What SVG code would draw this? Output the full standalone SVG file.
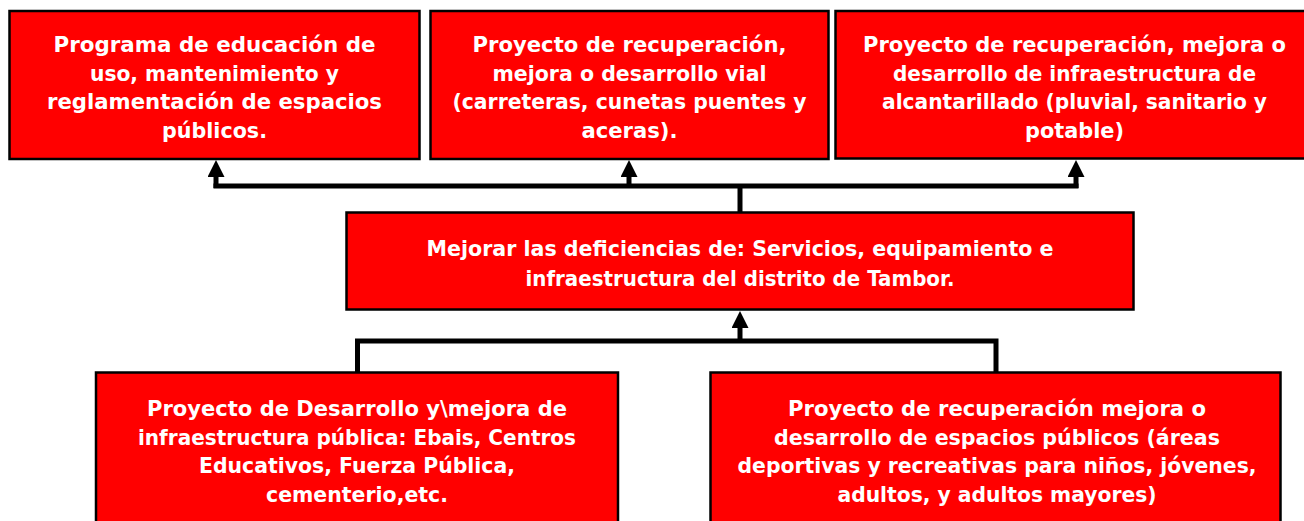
<svg xmlns="http://www.w3.org/2000/svg" width="1304" height="521" viewBox="0 0 1304 521">
<style>
.box{fill:#ff0000;stroke:#000;stroke-width:2.5}
.t{font-family:"DejaVu Sans","Liberation Sans",sans-serif;font-weight:bold;font-size:21px;fill:#fff;text-anchor:middle}
.m{font-size:22px}
.c{fill:none;stroke:#000;stroke-width:5}
</style>
<defs>
<marker id="ah" viewBox="0 0 17 17" refX="7" refY="8.5" markerWidth="17" markerHeight="17" markerUnits="userSpaceOnUse" orient="auto">
<path d="M0,0 L17,8.5 L0,17 z" fill="#000"/>
</marker>
</defs>
<rect width="1304" height="521" fill="#fff"/>
<g id="connectors">
<path class="c" d="M213.5,186 H1078.5"/>
<path class="c" d="M216,188 V170" marker-end="url(#ah)"/>
<path class="c" d="M629,188 V170" marker-end="url(#ah)"/>
<path class="c" d="M1076,188 V170" marker-end="url(#ah)"/>
<path class="c" d="M740,213 V184"/>
<path class="c" d="M357.5,373 V341 H996 V373"/>
<path class="c" d="M740,343 V321" marker-end="url(#ah)"/>
</g>
<g id="n1">
<rect class="box" x="9.5" y="11" width="410" height="148"/>
<text class="t" x="214.5" y="52" textLength="322" lengthAdjust="spacingAndGlyphs">Programa de educación de</text>
<text class="t" x="214.5" y="80.7" textLength="249" lengthAdjust="spacingAndGlyphs">uso, mantenimiento y</text>
<text class="t" x="214.5" y="109.3" textLength="335" lengthAdjust="spacingAndGlyphs">reglamentación de espacios</text>
<text class="t" x="214.5" y="138" textLength="105" lengthAdjust="spacingAndGlyphs">públicos.</text>
</g>
<g id="n2">
<rect class="box" x="430.5" y="11" width="398" height="148"/>
<text class="t" x="629.5" y="52" textLength="314" lengthAdjust="spacingAndGlyphs">Proyecto de recuperación,</text>
<text class="t" x="629.5" y="80.7" textLength="274" lengthAdjust="spacingAndGlyphs">mejora o desarrollo vial</text>
<text class="t" x="629.5" y="109.3" textLength="354" lengthAdjust="spacingAndGlyphs">(carreteras, cunetas puentes y</text>
<text class="t" x="629.5" y="138" textLength="96" lengthAdjust="spacingAndGlyphs">aceras).</text>
</g>
<g id="n3">
<rect class="box" x="835.5" y="11" width="480" height="147.5"/>
<text class="t" x="1074.5" y="52" textLength="423" lengthAdjust="spacingAndGlyphs">Proyecto de recuperación, mejora o</text>
<text class="t" x="1074.5" y="80.7" textLength="363" lengthAdjust="spacingAndGlyphs">desarrollo de infraestructura de</text>
<text class="t" x="1074.5" y="109.3" textLength="385" lengthAdjust="spacingAndGlyphs">alcantarillado (pluvial, sanitario y</text>
<text class="t" x="1074.5" y="138" textLength="99" lengthAdjust="spacingAndGlyphs">potable)</text>
</g>
<g id="n4">
<rect class="box" x="346.5" y="212.5" width="787" height="97"/>
<text class="t m" x="740" y="256" textLength="627" lengthAdjust="spacingAndGlyphs">Mejorar las deficiencias de: Servicios, equipamiento e</text>
<text class="t m" x="740" y="286" textLength="429" lengthAdjust="spacingAndGlyphs">infraestructura del distrito de Tambor.</text>
</g>
<g id="n5">
<rect class="box" x="96" y="372.5" width="522" height="160"/>
<text class="t" x="357" y="416" textLength="420" lengthAdjust="spacingAndGlyphs">Proyecto de Desarrollo y\mejora de</text>
<text class="t" x="357" y="444.7" textLength="438" lengthAdjust="spacingAndGlyphs">infraestructura pública: Ebais, Centros</text>
<text class="t" x="357" y="473.3" textLength="316" lengthAdjust="spacingAndGlyphs">Educativos, Fuerza Pública,</text>
<text class="t" x="357" y="502" textLength="182" lengthAdjust="spacingAndGlyphs">cementerio,etc.</text>
</g>
<g id="n6">
<rect class="box" x="710.5" y="372.5" width="570" height="160"/>
<text class="t" x="997" y="416" textLength="418" lengthAdjust="spacingAndGlyphs">Proyecto de recuperación mejora o</text>
<text class="t" x="997" y="444.7" textLength="446" lengthAdjust="spacingAndGlyphs">desarrollo de espacios públicos (áreas</text>
<text class="t" x="997" y="473.3" textLength="519" lengthAdjust="spacingAndGlyphs">deportivas y recreativas para niños, jóvenes,</text>
<text class="t" x="997" y="502" textLength="319" lengthAdjust="spacingAndGlyphs">adultos, y adultos mayores)</text>
</g>
</svg>
